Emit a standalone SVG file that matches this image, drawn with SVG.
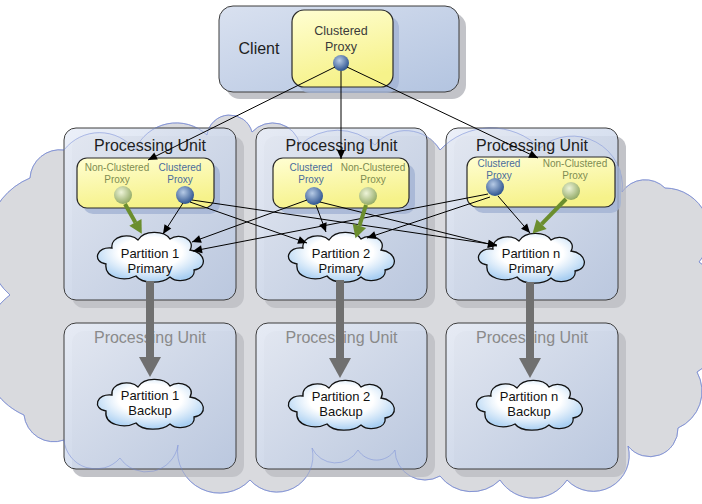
<svg xmlns="http://www.w3.org/2000/svg" width="702" height="504" viewBox="0 0 702 504">
<style>
.pu{stroke:#3c3c3c;stroke-width:1;fill:url(#gPU);fill-opacity:0.86}
.sh{fill:#c2c3c8}
.ysh{fill:#a3b3d3;opacity:0.8}
.yb{fill:url(#gY);stroke:#2a2a2a;stroke-width:1.2}
.t{font-family:"Liberation Sans",Arial,sans-serif;text-anchor:middle}
.pul{font-size:16px;fill:#1e1e1e}
.pug{font-size:16px;fill:#8a8a8a}
.nc{font-size:10px;fill:#7e8c52}
.cl{font-size:10px;fill:#4a6c9c}
.pt{font-size:13px;fill:#111}
.bl{fill:url(#gB)}
.gr{fill:url(#gG)}
.pc{fill:url(#gC);stroke:#111;stroke-width:1.3}
.k{stroke:#000;stroke-width:1;fill:none;marker-end:url(#ah)}
.g{stroke:#6b8e2e;stroke-width:4;fill:none;marker-end:url(#ag)}
.x{stroke:#707070;stroke-width:8;fill:none;marker-end:url(#ax)}
</style>
<defs>
<linearGradient id="gPU" x1="0" y1="0" x2="1" y2="1"><stop offset="0" stop-color="#e9eef8"/><stop offset="1" stop-color="#b9c8e2"/></linearGradient>
<linearGradient id="gCl" x1="0" y1="0" x2="1" y2="1"><stop offset="0" stop-color="#d9e1f0"/><stop offset="1" stop-color="#b3c4e0"/></linearGradient>
<linearGradient id="gY" x1="0" y1="0" x2="0.3" y2="1"><stop offset="0" stop-color="#fffed2"/><stop offset="1" stop-color="#f6f28a"/></linearGradient>
<radialGradient id="gB" cx="0.4" cy="0.35" r="0.65"><stop offset="0" stop-color="#b7cbe6"/><stop offset="1" stop-color="#2f5590"/></radialGradient>
<radialGradient id="gG" cx="0.4" cy="0.35" r="0.65"><stop offset="0" stop-color="#eef4d8"/><stop offset="1" stop-color="#94ab68"/></radialGradient>
<radialGradient id="gC" cx="0.5" cy="0.4" r="0.6"><stop offset="0.5" stop-color="#ffffff"/><stop offset="1" stop-color="#a9cff2"/></radialGradient>
<path id="cloud" d="M -44,8 C -58,6 -54,-10 -38,-8 C -40,-20 -20,-24 -12,-16 C -6,-26 14,-26 20,-17 C 30,-24 46,-16 40,-6 C 56,-4 58,12 44,14 C 46,24 28,28 20,21 C 12,28 -8,28 -14,20 C -26,26 -46,22 -44,8 Z"/>
<path id="big" d="M 64,150 A 45 45 0 0 1 135,150 A 45 45 0 0 1 207,135 A 23 23 0 0 1 252,132 A 28 28 0 0 1 300,145 A 55 55 0 0 1 375,145 A 40 40 0 0 1 440,150 A 70 70 0 0 1 540,148 A 50 50 0 0 1 622,192 A 28 28 0 0 1 665,188 A 45 45 0 0 1 699,262 A 65 65 0 0 1 697,372 A 40 40 0 0 1 678,428 A 28 28 0 0 1 628,446 A 36 36 0 0 1 567,480 A 40 40 0 0 1 500,480 A 40 40 0 0 1 440,476 A 30 30 0 0 1 395,450 A 22 22 0 0 1 358,450 A 26 26 0 0 1 312,448 A 36 36 0 0 1 250,480 A 42 42 0 0 1 178,445 A 32 32 0 0 1 120,458 A 32 32 0 0 1 64,440 A 30 30 0 0 1 24,415 A 70 70 0 0 1 10,295 A 70 70 0 0 1 30,178 A 30 30 0 0 1 64,150 Z"/>
<marker id="ah" markerUnits="userSpaceOnUse" markerWidth="10" markerHeight="8" refX="9" refY="4" orient="auto" overflow="visible"><path d="M0,0 L9,4 L0,8 Z" fill="#000"/></marker>
<marker id="ag" markerUnits="userSpaceOnUse" markerWidth="14" markerHeight="14" refX="0" refY="7" orient="auto" overflow="visible"><path d="M0,0 L13,7 L0,14 Z" fill="#6b8e2e"/></marker>
<marker id="ax" markerUnits="userSpaceOnUse" markerWidth="22" markerHeight="24" refX="0" refY="11" orient="auto" overflow="visible"><path d="M0,0 L20,11 L0,22 Z" fill="#707070"/></marker>
</defs>
<rect width="702" height="504" fill="#ffffff"/>
<g id="grid-cloud">
<use href="#big" fill="#d9dade" stroke="#8e9bd0" stroke-width="0.9"/>
</g>
<g id="client">
<rect class="sh" x="226" y="13" width="240" height="86" rx="14"/>
<rect x="219" y="6" width="240" height="86" rx="14" fill="url(#gCl)" stroke="#3c3c3c"/>
<text class="t" x="259" y="54" font-size="16" fill="#1e1e1e">Client</text>
<rect class="ysh" x="298" y="16" width="101" height="77" rx="12"/>
<rect class="yb" x="292" y="10" width="101" height="77" rx="12"/>
<text class="t" x="341" y="35" font-size="12.5" fill="#3a3a3a">Clustered</text>
<text class="t" x="341" y="51" font-size="12.5" fill="#3a3a3a">Proxy</text>
<circle class="bl" cx="341" cy="63" r="8"/>
</g>
<g id="pu1">
<rect class="sh" x="72" y="136" width="172" height="172" rx="12"/>
<rect class="pu" x="64" y="128" width="172" height="172" rx="12"/>
</g>
<g id="pu2">
<rect class="sh" x="264" y="136" width="171" height="172" rx="12"/>
<rect class="pu" x="256" y="128" width="171" height="172" rx="12"/>
</g>
<g id="pu3">
<rect class="sh" x="454" y="136" width="172" height="172" rx="12"/>
<rect class="pu" x="446" y="128" width="172" height="172" rx="12"/>
</g>
<g id="pu1b">
<rect class="sh" x="72" y="331" width="172" height="146" rx="12"/>
<rect class="pu" x="64" y="323" width="172" height="146" rx="12"/>
</g>
<g id="pu2b">
<rect class="sh" x="264" y="331" width="171" height="146" rx="12"/>
<rect class="pu" x="256" y="323" width="171" height="146" rx="12"/>
</g>
<g id="pu3b">
<rect class="sh" x="454" y="331" width="172" height="146" rx="12"/>
<rect class="pu" x="446" y="323" width="172" height="146" rx="12"/>
</g>
<g id="cloud-overlay">
<use href="#big" fill="none" stroke="#6f86d6" stroke-width="0.9" opacity="0.5"/>
</g>
<g id="pu-labels">
<text class="t pul" x="150" y="151">Processing Unit</text>
<text class="t pul" x="341.5" y="151">Processing Unit</text>
<text class="t pul" x="532" y="151">Processing Unit</text>
<text class="t pug" x="150" y="343">Processing Unit</text>
<text class="t pug" x="341.5" y="343">Processing Unit</text>
<text class="t pug" x="532" y="343">Processing Unit</text>
</g>
<g id="proxies1">
<rect class="ysh" x="83" y="164" width="137" height="50" rx="10"/>
<rect class="yb" x="77" y="158" width="137" height="50" rx="10"/>
<text class="t nc" x="117" y="171">Non-Clustered</text>
<text class="t nc" x="117" y="183">Proxy</text>
<text class="t cl" x="180" y="171">Clustered</text>
<text class="t cl" x="180" y="183">Proxy</text>
<circle class="gr" cx="123" cy="195" r="9"/>
<circle class="bl" cx="185" cy="195" r="9"/>
</g>
<g id="proxies2">
<rect class="ysh" x="279" y="164" width="136" height="50" rx="10"/>
<rect class="yb" x="273" y="158" width="136" height="50" rx="10"/>
<text class="t cl" x="311" y="171">Clustered</text>
<text class="t cl" x="311" y="183">Proxy</text>
<text class="t nc" x="373" y="171">Non-Clustered</text>
<text class="t nc" x="373" y="183">Proxy</text>
<circle class="bl" cx="314" cy="196" r="9"/>
<circle class="gr" cx="368" cy="196" r="9"/>
</g>
<g id="proxies3">
<rect class="ysh" x="473" y="163" width="148" height="50" rx="10"/>
<rect class="yb" x="467" y="157" width="148" height="50" rx="10"/>
<text class="t cl" x="499" y="167">Clustered</text>
<text class="t cl" x="499" y="179">Proxy</text>
<text class="t nc" x="575" y="167">Non-Clustered</text>
<text class="t nc" x="575" y="179">Proxy</text>
<circle class="bl" cx="495" cy="187" r="9"/>
<circle class="gr" cx="571" cy="191" r="9"/>
</g>
<g id="partition1-primary">
<use href="#cloud" class="pc" transform="translate(150,256)"/>
<text class="t pt" x="150" y="258">Partition 1</text>
<text class="t pt" x="150" y="273">Primary</text>
</g>
<g id="partition2-primary">
<use href="#cloud" class="pc" transform="translate(341,256)"/>
<text class="t pt" x="341" y="258">Partition 2</text>
<text class="t pt" x="341" y="273">Primary</text>
</g>
<g id="partitionn-primary">
<use href="#cloud" class="pc" transform="translate(531,257)"/>
<text class="t pt" x="531" y="258">Partition n</text>
<text class="t pt" x="531" y="273">Primary</text>
</g>
<g id="partition1-backup">
<use href="#cloud" class="pc" transform="translate(150,403)"/>
<text class="t pt" x="150" y="400">Partition 1</text>
<text class="t pt" x="150" y="415">Backup</text>
</g>
<g id="partition2-backup">
<use href="#cloud" class="pc" transform="translate(341,404)"/>
<text class="t pt" x="341" y="401">Partition 2</text>
<text class="t pt" x="341" y="416">Backup</text>
</g>
<g id="partitionn-backup">
<use href="#cloud" class="pc" transform="translate(529,404)"/>
<text class="t pt" x="529" y="401">Partition n</text>
<text class="t pt" x="529" y="416">Backup</text>
</g>
<g id="connectors">
<line class="k" x1="335" y1="67" x2="148" y2="160"/>
<line class="k" x1="341" y1="71" x2="341" y2="159"/>
<line class="k" x1="347" y1="67" x2="538" y2="158"/>
<line class="k" x1="183" y1="203" x2="163" y2="234"/>
<line class="k" x1="190" y1="202" x2="307" y2="243"/>
<line class="k" x1="192" y1="200" x2="497" y2="245"/>
<line class="k" x1="307" y1="200" x2="192" y2="242"/>
<line class="k" x1="316" y1="205" x2="326" y2="232"/>
<line class="k" x1="320" y1="202" x2="497" y2="246"/>
<line class="k" x1="488" y1="194" x2="193" y2="251"/>
<line class="k" x1="490" y1="197" x2="367" y2="238"/>
<line class="k" x1="498" y1="196" x2="530" y2="233"/>
<line class="g" x1="125" y1="204" x2="135.4" y2="222.4"/>
<line class="g" x1="366" y1="205" x2="359.4" y2="225.8"/>
<line class="g" x1="566" y1="199" x2="541.6" y2="224.2"/>
<line class="x" x1="150" y1="281" x2="150" y2="357"/>
<line class="x" x1="340" y1="280" x2="340" y2="358"/>
<line class="x" x1="530" y1="282" x2="530" y2="358"/>
</g>
</svg>
